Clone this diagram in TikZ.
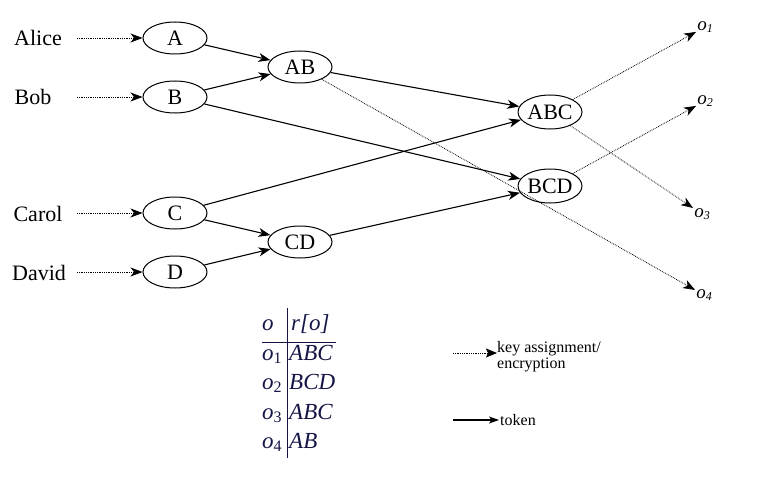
\documentclass[tikz,border=0pt]{standalone}
\usepackage{fontspec}
\setmainfont{Liberation Serif}
\usetikzlibrary{arrows.meta,shapes.geometric}
\definecolor{tabink}{RGB}{20,20,70}
\newcommand{\subo}[1]{\textit{o}\raisebox{-0.3ex}{\fontsize{16}{17}\selectfont\upshape #1}}
\newcommand{\smallo}[1]{\textit{o}\raisebox{-0.3ex}{\fontsize{12}{13}\selectfont\textit{#1}}}
\begin{document}
\begin{tikzpicture}[x=1pt,y=-1pt,
  every node/.style={font=\fontsize{22}{26}\selectfont},
  party/.style={inner sep=0pt, anchor=center},
  keynode/.style={draw, ellipse, minimum width=64pt, minimum height=32pt, inner sep=0pt, line width=1pt},
  objlabel/.style={inner sep=1pt, font=\fontsize{19}{22}\selectfont},
  tokenedge/.style={-{Stealth[length=12pt,width=9pt,inset=3.5pt]}, line width=1.1pt},
  keyedge/.style={-{Stealth[length=12pt,width=9pt,inset=3.5pt]}, densely dotted, line width=0.8pt},
  cell/.style={text=tabink, inner sep=0pt, anchor=base west, font=\fontsize{23}{26}\selectfont\itshape},
  legendtext/.style={font=\fontsize{16}{16}\selectfont, inner sep=0pt, anchor=west, align=left}
]
\useasboundingbox (0,0) rectangle (767,484);

% users
\node[party] (alice) at (38,38) {Alice};
\node[party] (bob)   at (33,97) {Bob};
\node[party] (carol) at (38,214) {Carol};
\node[party] (david) at (39,273) {David};

% key nodes
\node[keynode] (A) at (175,38) {A};
\node[keynode] (B) at (175,97) {B};
\node[keynode] (C) at (175,213) {C};
\node[keynode] (D) at (175,272) {D};
\node[keynode] (AB) at (300,67) {AB};
\node[keynode] (CD) at (300,242) {CD};
\node[keynode, minimum width=63pt, minimum height=34pt] (ABC) at (550,112) {ABC};
\node[keynode, minimum width=63pt, minimum height=34pt] (BCD) at (550,186) {BCD};

% objects
\node[objlabel] (o1) at (705,27) {\smallo{1}};
\node[objlabel] (o2) at (705,101) {\smallo{2}};
\node[objlabel] (o3) at (702,214) {\smallo{3}};
\node[objlabel] (o4) at (704,295) {\smallo{4}};

% key assignment from users
\coordinate (aliceS) at (77,38);
\coordinate (bobS) at (77,97);
\coordinate (carolS) at (77,213);
\coordinate (davidS) at (77,272);
\draw[keyedge] (aliceS) -- (A);
\draw[keyedge] (bobS) -- (B);
\draw[keyedge] (carolS) -- (C);
\draw[keyedge] (davidS) -- (D);

% tokens
\draw[tokenedge] (A) -- (AB);
\draw[tokenedge] (B) -- (AB);
\draw[tokenedge] (B) -- (BCD);
\draw[tokenedge] (AB) -- (ABC);
\draw[tokenedge] (C) -- (ABC);
\draw[tokenedge] (C) -- (CD);
\draw[tokenedge] (D) -- (CD);
\draw[tokenedge] (CD) -- (BCD);

% encryption of objects
\draw[keyedge] (ABC) -- (o1);
\draw[keyedge] (ABC) -- (o3);
\draw[keyedge] (BCD) -- (o2);
\draw[keyedge] (AB) -- (o4);

% table of object to node assignment
\node[cell] (h1) at (262,330) {o};
\node[cell] (h2) at (291,330) {r{[}o{]}};
\node[cell] (r1a) at (262,360) {\subo{1}};
\node[cell] (r1b) at (289,360) {ABC};
\node[cell] (r2a) at (262,389) {\subo{2}};
\node[cell] (r2b) at (289,389) {BCD};
\node[cell] (r3a) at (262,419) {\subo{3}};
\node[cell] (r3b) at (289,419) {ABC};
\node[cell] (r4a) at (262,448) {\subo{4}};
\node[cell] (r4b) at (289,448) {AB};
\coordinate (vtop) at (287,308);
\coordinate (vbot) at (287,458);
\coordinate (hl) at (262,342);
\coordinate (hr) at (336,342);
\draw[tabink, line width=0.9pt] (vtop) -- (vbot);
\draw[tabink, line width=0.9pt] (hl) -- (hr);

% legend
\coordinate (lk1) at (453,353);
\coordinate (lk2) at (497,353);
\coordinate (lt1) at (453,420);
\coordinate (lt2) at (499,420);
\draw[densely dotted, line width=0.8pt, -{Stealth[length=11pt,width=9pt,inset=2pt]}] (lk1) -- (lk2);
\draw[line width=1.1pt, -{Stealth[length=10pt,width=7pt,inset=2.5pt]}] (lt1) -- (lt2);
\node[legendtext] (lkt) at (497,357) {\baselineskip=17pt key assignment/\\encryption};
\node[legendtext] (ltt) at (500,420) {token};
\end{tikzpicture}
\end{document}
